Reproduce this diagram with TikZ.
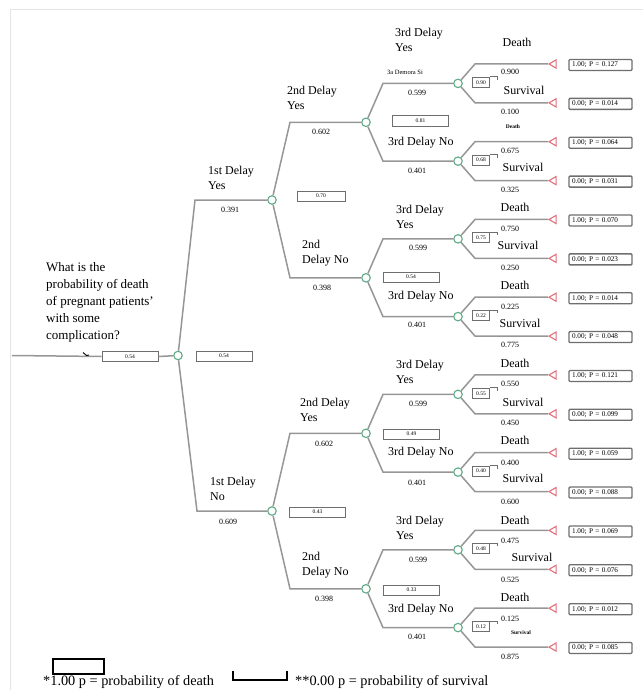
\documentclass[tikz,border=0pt]{standalone}
\usepackage{fontspec}
\setmainfont{Liberation Serif}
\usetikzlibrary{shapes.geometric}
\definecolor{branch}{HTML}{969696}
\definecolor{chance}{HTML}{5DAA85}
\definecolor{termred}{HTML}{E0707C}
\definecolor{boxgray}{HTML}{6E6E6E}
\tikzset{
 br/.style={draw=branch, line width=1.5pt},
 boxline/.style={draw=boxgray, line width=0.9pt},
 chancenode/.style={circle, draw=chance, fill=white, line width=1.1pt, minimum size=8.5pt, inner sep=0},
 termnode/.style={regular polygon, regular polygon sides=3, shape border rotate=90, draw=termred, fill=white, line width=1.1pt, minimum size=9.5pt, inner sep=0},
 valbox/.style={draw=boxgray, fill=white, line width=1pt, minimum width=56pt, minimum height=10pt, inner sep=0, font=\fontsize{5.5}{6}\selectfont},
 smallbox/.style={draw=boxgray, fill=white, line width=0.9pt, minimum width=17pt, minimum height=10pt, inner sep=0, font=\fontsize{5.5}{6}\selectfont},
 endbox/.style={draw=boxgray, line width=1.3pt, rounded corners=1pt, text width=57pt, align=left, inner xsep=3pt, inner ysep=0pt, minimum height=11pt, font=\fontsize{7.2}{8}\selectfont},
 lbl/.style={font=\fontsize{12}{15}\selectfont, align=left, inner sep=0, anchor=west},
 prob/.style={font=\fontsize{8}{9}\selectfont, inner sep=0},
 outc/.style={font=\fontsize{12}{13}\selectfont, inner sep=0},
 tinyoutc/.style={font=\fontsize{5.5}{6}\bfseries\selectfont, inner sep=0},
 legtext/.style={font=\fontsize{14.3}{15}\selectfont, inner sep=0, anchor=west},
}
\begin{document}
\begin{tikzpicture}[x=1pt,y=-1pt]
\useasboundingbox (0,0) rectangle (643,690);
% faint frame
\draw[black!10, line width=0.6pt] (10,690) -- (10,9) -- (643,9);

% ---------- nodes of the tree ----------
\coordinate (s) at (12,355.5);
\node[chancenode] (c0) at (178,355.5) {};
\node[valbox] (pre) at (130,356.5) {0.54};
\node[valbox] (v0) at (224,356) {0.54};

\node[chancenode] (c11) at (272,200) {};
\node[chancenode] (c12) at (272,511) {};
\coordinate (b11) at (195,200);
\coordinate (b12) at (197,511);

\foreach \k in {1,...,4} {
  \pgfmathsetmacro\yy{122.3+155.5*(\k-1)}
  \node[chancenode] (c2\k) at (366,\yy) {};
  \coordinate (b2\k) at (290,\yy);
}
\foreach \j in {1,...,8} {
  \pgfmathsetmacro\yy{83.4+77.74*(\j-1)}
  \node[chancenode] (c3\j) at (458,\yy) {};
  \coordinate (b3\j) at (383,\yy);
}
\foreach \i in {1,...,16} {
  \pgfmathsetmacro\yy{64+38.87*(\i-1)}
  \node[termnode] (t\i) at (553.75,\yy) {};
  \coordinate (bt\i) at (475,\yy);
}

% ---------- connectors ----------
\draw[br] (s) -- (pre.west);
\draw[br] (pre.east) -- (c0);
\draw[black, line width=0.9pt] (83,352.5) -- (86.5,355.5) -- (89,355);
\draw[br] (c0) -- (b11) -- (c11);
\draw[br] (c0) -- (b12) -- (c12);
\foreach \k in {1,...,4} {
  \pgfmathtruncatemacro\p{int((\k+1)/2)}
  \draw[br] (c1\p) -- (b2\k) -- (c2\k);
}
\foreach \j in {1,...,8} {
  \pgfmathtruncatemacro\p{int((\j+1)/2)}
  \draw[br] (c2\p) -- (b3\j) -- (c3\j);
}
\foreach \i in {1,...,16} {
  \pgfmathtruncatemacro\p{int((\i+1)/2)}
  \draw[br] (c3\p) -- (bt\i) -- (t\i);
}

% ---------- value boxes ----------
\node[valbox, minimum width=48pt] (v11) at (321,196) {0.70};
\node[valbox] (v12) at (317.5,512) {0.43};
\node[valbox] (v21) at (420.5,121) {0.81};
\node[valbox] (v22) at (411,277) {0.54};
\node[valbox] (v23) at (411.5,434) {0.49};
\node[valbox] (v24) at (411.5,590) {0.33};

\foreach \j/\v in {1/0.90,2/0.68,3/0.75,4/0.22,5/0.55,6/0.40,7/0.48,8/0.12} {
  \pgfmathsetmacro\yy{83.4+77.74*(\j-1)-1}
  \node[smallbox] (sb\j) at (481,\yy) {\v};
  \draw[boxline] (sb\j.north east) -- ++(7,0) -- ++(0,3);
}

% ---------- terminal boxes ----------
\foreach \i/\v in {1/{1.00; P = 0.127},2/{0.00; P = 0.014},3/{1.00; P = 0.064},4/{0.00; P = 0.031},
  5/{1.00; P = 0.070},6/{0.00; P = 0.023},7/{1.00; P = 0.014},8/{0.00; P = 0.048},
  9/{1.00; P = 0.121},10/{0.00; P = 0.099},11/{1.00; P = 0.059},12/{0.00; P = 0.088},
  13/{1.00; P = 0.069},14/{0.00; P = 0.076},15/{1.00; P = 0.012},16/{0.00; P = 0.085}} {
  \pgfmathsetmacro\yy{64+38.87*(\i-1)+1}
  \node[endbox] (e\i) at (600.5,\yy) {\v};
}

% ---------- labels: level 1 ----------
\node[lbl, font=\fontsize{13}{17}\selectfont] (q) at (46,302.5) {What is the\\probability of death\\of pregnant patients'\\with some\\complication?};
\node[lbl] (l11) at (208,178) {1st Delay\\Yes};
\node[prob] (p11) at (230,210) {0.391};
\node[lbl] (l12) at (210,489) {1st Delay\\No};
\node[prob] (p12) at (228,522) {0.609};

% ---------- labels: level 2 ----------
\node[lbl] (l21) at (287,98) {2nd Delay\\Yes};
\node[prob] (p21) at (321,132) {0.602};
\node[lbl] (l22) at (302,253) {2nd\\Delay No};
\node[prob] (p22) at (322,288) {0.398};
\node[lbl] (l23) at (300,410) {2nd Delay\\Yes};
\node[prob] (p23) at (324,444) {0.602};
\node[lbl] (l24) at (302,565) {2nd\\Delay No};
\node[prob] (p24) at (324,599) {0.398};

% ---------- labels: level 3 ----------
\node[lbl] (l31) at (395,40) {3rd Delay\\Yes};
\node[prob, font=\fontsize{6.5}{7}\selectfont] (dem) at (405,72) {3a Demora Si};
\node[prob] (p31) at (417,93) {0.599};
\node[lbl] (l32) at (388,143) {3rd Delay No};
\node[prob] (p32) at (417,171) {0.401};
\node[lbl] (l33) at (396,217) {3rd Delay\\Yes};
\node[prob] (p33) at (418,248) {0.599};
\node[lbl] (l34) at (388,297) {3rd Delay No};
\node[prob] (p34) at (417,325) {0.401};
\node[lbl] (l35) at (396,372) {3rd Delay\\Yes};
\node[prob] (p35) at (418,404) {0.599};
\node[lbl] (l36) at (388,453) {3rd Delay No};
\node[prob] (p36) at (417,483) {0.401};
\node[lbl] (l37) at (396,528) {3rd Delay\\Yes};
\node[prob] (p37) at (418,560) {0.599};
\node[lbl] (l38) at (388,610) {3rd Delay No};
\node[prob] (p38) at (417,637) {0.401};

% ---------- labels: outcomes ----------
\node[outc] (d1) at (517,42) {Death};
\node[prob] (q1) at (510,72) {0.900};
\node[outc] (s1) at (524,90) {Survival};
\node[prob] (r1) at (510,112) {0.100};

\node[tinyoutc] (d2) at (513,127) {Death};
\node[prob] (q2) at (510,151) {0.675};
\node[outc] (s2) at (523,167) {Survival};
\node[prob] (r2) at (510,190) {0.325};

\node[outc] (d3) at (515,207) {Death};
\node[prob] (q3) at (510,229) {0.750};
\node[outc] (s3) at (518,245) {Survival};
\node[prob] (r3) at (510,268) {0.250};

\node[outc] (d4) at (515,285) {Death};
\node[prob] (q4) at (510,307) {0.225};
\node[outc] (s4) at (520,323) {Survival};
\node[prob] (r4) at (510,345) {0.775};

\node[outc] (d5) at (515,363) {Death};
\node[prob] (q5) at (510,384) {0.550};
\node[outc] (s5) at (523,402) {Survival};
\node[prob] (r5) at (510,423) {0.450};

\node[outc] (d6) at (515,440) {Death};
\node[prob] (q6) at (510,463) {0.400};
\node[outc] (s6) at (523,478) {Survival};
\node[prob] (r6) at (510,502) {0.600};

\node[outc] (d7) at (515,520) {Death};
\node[prob] (q7) at (510,541) {0.475};
\node[outc] (s7) at (532,557) {Survival};
\node[prob] (r7) at (510,580) {0.525};

\node[outc] (d8) at (515,597) {Death};
\node[prob] (q8) at (510,619) {0.125};
\node[tinyoutc] (s8) at (521,633) {Survival};
\node[prob] (r8) at (510,657) {0.875};

% ---------- legend ----------
\node[draw=black, line width=1.2pt, minimum width=51pt, minimum height=15pt, inner sep=0] (lg1) at (78.5,666.5) {};
\node[legtext] (lt1) at (43,682) {*1.00 p = probability of death};
\coordinate (lg2a) at (233,671);
\coordinate (lg2b) at (233,680);
\coordinate (lg2c) at (287,680);
\coordinate (lg2d) at (287,671);
\draw[black, line width=1.2pt] (lg2a) -- (lg2b) -- (lg2c) -- (lg2d);
\node[legtext] (lt2) at (295,682) {**0.00 p = probability of survival};
\end{tikzpicture}
\end{document}
